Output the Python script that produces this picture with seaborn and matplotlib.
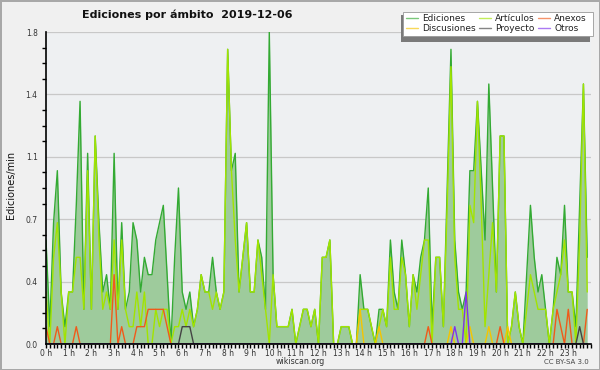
import numpy as np
import matplotlib
matplotlib.use("Agg")
import matplotlib.pyplot as plt
import seaborn as sns
from matplotlib.patches import Rectangle
from matplotlib.lines import Line2D
from matplotlib.ticker import MultipleLocator, FixedLocator, FixedFormatter

# ---------------- data (edits per minute, 10-minute steps) ----------------
hour_labels = [f"{h} h" for h in range(24)]
y_ticks = [0.0, 0.36, 0.72, 1.08, 1.44, 1.8]
y_tick_labels = ["0.0", "0.4", "0.7", "1.1", "1.4", "1.8"]

ediciones = [
    0.6, 0.1, 0.7, 1.0, 0.3, 0.1, 0.3, 0.3, 0.8, 1.4, 0.2, 1.1,
    0.2, 1.2, 0.7, 0.3, 0.4, 0.2, 1.1, 0.2, 0.7, 0.2, 0.3, 0.7,
    0.6, 0.3, 0.5, 0.4, 0.4, 0.6, 0.7, 0.8, 0.4, 0.0, 0.5, 0.9,
    0.3, 0.2, 0.3, 0.1, 0.2, 0.4, 0.3, 0.3, 0.5, 0.3, 0.2, 0.3,
    1.7, 1.0, 1.1, 0.3, 0.5, 0.7, 0.3, 0.3, 0.6, 0.5, 0.2, 1.8,
    0.4, 0.1, 0.1, 0.1, 0.1, 0.2, 0.0, 0.1, 0.2, 0.2, 0.1, 0.2,
    0.0, 0.5, 0.5, 0.6, 0.0, 0.0, 0.1, 0.1, 0.1, 0.0, 0.0, 0.4,
    0.2, 0.2, 0.1, 0.0, 0.2, 0.2, 0.1, 0.6, 0.3, 0.2, 0.6, 0.4,
    0.1, 0.4, 0.3, 0.5, 0.6, 0.9, 0.1, 0.5, 0.5, 0.1, 0.9, 1.7,
    0.6, 0.3, 0.2, 0.3, 1.0, 1.0, 1.4, 1.0, 0.6, 1.5, 0.9, 0.3,
    1.2, 1.2, 0.0, 0.1, 0.3, 0.1, 0.0, 0.4, 0.8, 0.5, 0.3, 0.4,
    0.2, 0.0, 0.2, 0.5, 0.4, 0.8, 0.3, 0.3, 0.1, 0.8, 1.5, 0.5,
]
articulos = [
    0.3, 0.0, 0.5, 0.7, 0.3, 0.0, 0.3, 0.3, 0.5, 0.5, 0.2, 1.0,
    0.2, 1.2, 0.6, 0.2, 0.3, 0.2, 0.6, 0.2, 0.6, 0.2, 0.1, 0.1,
    0.3, 0.1, 0.3, 0.0, 0.0, 0.2, 0.1, 0.2, 0.2, 0.0, 0.1, 0.1,
    0.2, 0.1, 0.2, 0.1, 0.2, 0.4, 0.3, 0.3, 0.2, 0.3, 0.2, 0.3,
    1.7, 1.0, 0.6, 0.3, 0.5, 0.7, 0.3, 0.3, 0.6, 0.4, 0.2, 0.0,
    0.4, 0.1, 0.1, 0.1, 0.1, 0.2, 0.0, 0.1, 0.2, 0.2, 0.1, 0.2,
    0.0, 0.5, 0.5, 0.6, 0.0, 0.0, 0.1, 0.1, 0.1, 0.0, 0.0, 0.2,
    0.2, 0.2, 0.1, 0.0, 0.1, 0.2, 0.1, 0.5, 0.2, 0.2, 0.5, 0.4,
    0.1, 0.4, 0.2, 0.4, 0.6, 0.6, 0.0, 0.5, 0.5, 0.1, 0.8, 1.6,
    0.5, 0.2, 0.2, 0.0, 0.8, 0.7, 1.4, 0.8, 0.1, 0.4, 0.7, 0.3,
    1.2, 1.2, 0.0, 0.1, 0.3, 0.1, 0.0, 0.2, 0.4, 0.3, 0.2, 0.2,
    0.2, 0.0, 0.2, 0.3, 0.4, 0.6, 0.3, 0.3, 0.0, 0.6, 1.5, 0.3,
]
anexos = [
    0.1, 0.0, 0.0, 0.1, 0.0, 0.0, 0.0, 0.0, 0.1, 0.0, 0.0, 0.0,
    0.0, 0.0, 0.0, 0.0, 0.0, 0.0, 0.4, 0.0, 0.1, 0.0, 0.0, 0.0,
    0.1, 0.1, 0.1, 0.2, 0.2, 0.2, 0.2, 0.2, 0.1, 0.0, 0.0, 0.0,
    0.0, 0.0, 0.0, 0.0, 0.0, 0.0, 0.0, 0.0, 0.0, 0.0, 0.0, 0.0,
    0.0, 0.0, 0.0, 0.0, 0.0, 0.0, 0.0, 0.0, 0.0, 0.0, 0.0, 0.0,
    0.0, 0.0, 0.0, 0.0, 0.0, 0.0, 0.0, 0.0, 0.0, 0.0, 0.0, 0.0,
    0.0, 0.0, 0.0, 0.0, 0.0, 0.0, 0.0, 0.0, 0.0, 0.0, 0.0, 0.0,
    0.0, 0.0, 0.0, 0.0, 0.0, 0.0, 0.0, 0.0, 0.0, 0.0, 0.0, 0.0,
    0.0, 0.0, 0.0, 0.0, 0.0, 0.1, 0.0, 0.0, 0.0, 0.0, 0.0, 0.0,
    0.0, 0.0, 0.0, 0.0, 0.0, 0.0, 0.0, 0.0, 0.0, 0.0, 0.0, 0.0,
    0.1, 0.0, 0.0, 0.0, 0.0, 0.0, 0.0, 0.0, 0.0, 0.0, 0.0, 0.0,
    0.0, 0.0, 0.0, 0.2, 0.1, 0.0, 0.2, 0.0, 0.0, 0.0, 0.0, 0.2,
]
discusiones = [
    0.0, 0.0, 0.0, 0.0, 0.0, 0.0, 0.0, 0.0, 0.0, 0.0, 0.0, 0.0,
    0.0, 0.0, 0.0, 0.0, 0.0, 0.0, 0.0, 0.0, 0.0, 0.0, 0.0, 0.0,
    0.0, 0.0, 0.0, 0.0, 0.0, 0.0, 0.0, 0.0, 0.0, 0.0, 0.0, 0.0,
    0.0, 0.0, 0.0, 0.0, 0.0, 0.0, 0.0, 0.0, 0.0, 0.0, 0.0, 0.0,
    0.0, 0.0, 0.0, 0.0, 0.0, 0.0, 0.0, 0.0, 0.0, 0.0, 0.0, 0.0,
    0.0, 0.0, 0.0, 0.0, 0.0, 0.0, 0.0, 0.0, 0.0, 0.0, 0.0, 0.0,
    0.0, 0.0, 0.0, 0.0, 0.0, 0.0, 0.0, 0.0, 0.0, 0.0, 0.0, 0.2,
    0.0, 0.0, 0.0, 0.0, 0.1, 0.0, 0.0, 0.0, 0.0, 0.0, 0.0, 0.0,
    0.0, 0.0, 0.0, 0.0, 0.0, 0.0, 0.0, 0.0, 0.0, 0.0, 0.0, 0.1,
    0.0, 0.0, 0.0, 0.0, 0.1, 0.0, 0.0, 0.0, 0.0, 0.1, 0.0, 0.0,
    0.0, 0.0, 0.1, 0.0, 0.0, 0.0, 0.0, 0.0, 0.0, 0.0, 0.0, 0.0,
    0.0, 0.0, 0.0, 0.0, 0.0, 0.0, 0.0, 0.0, 0.0, 0.0, 0.0, 0.0,
]
proyecto = [
    0.0, 0.0, 0.0, 0.0, 0.0, 0.0, 0.0, 0.0, 0.0, 0.0, 0.0, 0.0,
    0.0, 0.0, 0.0, 0.0, 0.0, 0.0, 0.0, 0.0, 0.0, 0.0, 0.0, 0.0,
    0.0, 0.0, 0.0, 0.0, 0.0, 0.0, 0.0, 0.0, 0.0, 0.0, 0.0, 0.0,
    0.1, 0.1, 0.1, 0.0, 0.0, 0.0, 0.0, 0.0, 0.0, 0.0, 0.0, 0.0,
    0.0, 0.0, 0.0, 0.0, 0.0, 0.0, 0.0, 0.0, 0.0, 0.0, 0.0, 0.0,
    0.0, 0.0, 0.0, 0.0, 0.0, 0.0, 0.0, 0.0, 0.0, 0.0, 0.0, 0.0,
    0.0, 0.0, 0.0, 0.0, 0.0, 0.0, 0.0, 0.0, 0.0, 0.0, 0.0, 0.0,
    0.0, 0.0, 0.0, 0.0, 0.0, 0.0, 0.0, 0.0, 0.0, 0.0, 0.0, 0.0,
    0.0, 0.0, 0.0, 0.0, 0.0, 0.0, 0.0, 0.0, 0.0, 0.0, 0.0, 0.0,
    0.0, 0.0, 0.0, 0.0, 0.0, 0.0, 0.0, 0.0, 0.0, 0.0, 0.0, 0.0,
    0.0, 0.0, 0.0, 0.0, 0.0, 0.0, 0.0, 0.0, 0.0, 0.0, 0.0, 0.0,
    0.0, 0.0, 0.0, 0.0, 0.0, 0.0, 0.0, 0.0, 0.0, 0.1, 0.0, 0.0,
]
otros = [
    0.0, 0.0, 0.0, 0.0, 0.0, 0.0, 0.0, 0.0, 0.0, 0.0, 0.0, 0.0,
    0.0, 0.0, 0.0, 0.0, 0.0, 0.0, 0.0, 0.0, 0.0, 0.0, 0.0, 0.0,
    0.0, 0.0, 0.0, 0.0, 0.0, 0.0, 0.0, 0.0, 0.0, 0.0, 0.0, 0.0,
    0.0, 0.0, 0.0, 0.0, 0.0, 0.0, 0.0, 0.0, 0.0, 0.0, 0.0, 0.0,
    0.0, 0.0, 0.0, 0.0, 0.0, 0.0, 0.0, 0.0, 0.0, 0.0, 0.0, 0.0,
    0.0, 0.0, 0.0, 0.0, 0.0, 0.0, 0.0, 0.0, 0.0, 0.0, 0.0, 0.0,
    0.0, 0.0, 0.0, 0.0, 0.0, 0.0, 0.0, 0.0, 0.0, 0.0, 0.0, 0.0,
    0.0, 0.0, 0.0, 0.0, 0.0, 0.0, 0.0, 0.0, 0.0, 0.0, 0.0, 0.0,
    0.0, 0.0, 0.0, 0.0, 0.0, 0.0, 0.0, 0.0, 0.0, 0.0, 0.0, 0.0,
    0.1, 0.0, 0.0, 0.3, 0.0, 0.0, 0.0, 0.0, 0.0, 0.0, 0.0, 0.0,
    0.0, 0.0, 0.0, 0.0, 0.0, 0.0, 0.0, 0.0, 0.0, 0.0, 0.0, 0.0,
    0.0, 0.0, 0.0, 0.0, 0.0, 0.0, 0.0, 0.0, 0.0, 0.0, 0.0, 0.0,
]

hours = np.arange(len(ediciones)) / 6.0

# ---------------- style ----------------
sns.set_style("white")
plt.rcParams["font.family"] = ["DejaVu Sans"]

W, H = 600, 370
fig = plt.figure(figsize=(6.0, 3.7), dpi=100)
fig.patch.set_facecolor("#f0f0f0")
fig.patch.set_edgecolor("#a8a8a8")
fig.patch.set_linewidth(2)

ax = fig.add_axes([46 / W, 1 - 344 / H, 545 / W, 312 / H])
ax.set_facecolor("#eef0f2")

c_fill = "#9ecb9c"
c_ed = "#33aa33"
c_art = "#a2e400"
c_anx = "#f05a1a"
c_dis = "#f5c400"
c_pro = "#444444"
c_otr = "#7f33ee"

ax.fill_between(hours, ediciones, color=c_fill, lw=0, zorder=1)
sns.lineplot(x=hours, y=ediciones, ax=ax, color=c_ed, lw=1.0, zorder=3)
sns.lineplot(x=hours, y=articulos, ax=ax, color=c_art, lw=1.0, zorder=4)
sns.lineplot(x=hours, y=discusiones, ax=ax, color=c_dis, lw=1.0, zorder=5)
sns.lineplot(x=hours, y=anexos, ax=ax, color=c_anx, lw=1.0, zorder=5)
sns.lineplot(x=hours, y=proyecto, ax=ax, color=c_pro, lw=1.0, zorder=5)
sns.lineplot(x=hours, y=otros, ax=ax, color=c_otr, lw=1.0, zorder=5)

ax.set_xlim(0, 24)
ax.set_ylim(0, 1.8)
ax.set_xlabel("")
ax.set_ylabel("")

ax.xaxis.set_major_locator(FixedLocator(list(range(24))))
ax.xaxis.set_major_formatter(FixedFormatter(hour_labels))
ax.xaxis.set_minor_locator(MultipleLocator(1 / 6))
ax.yaxis.set_major_locator(FixedLocator(y_ticks))
ax.yaxis.set_major_formatter(FixedFormatter(y_tick_labels))
ax.yaxis.set_minor_locator(MultipleLocator(0.09))

ax.tick_params(axis="both", which="major", direction="out", color="black",
               width=1, labelsize=5.5, labelcolor="#333333")
ax.tick_params(axis="y", which="major", length=5, pad=1)
ax.tick_params(axis="y", which="minor", length=3, width=1, color="black", left=True)
ax.tick_params(axis="x", which="major", length=3, pad=0.5, bottom=True)
ax.tick_params(axis="x", which="minor", length=3, width=1, color="black", bottom=True)

ax.grid(axis="y", which="major", color="#c8c8c8", lw=0.9, zorder=0)
ax.set_axisbelow(True)
for s in ["top", "right"]:
    ax.spines[s].set_visible(False)
for s in ["left", "bottom"]:
    ax.spines[s].set_color("black")
    ax.spines[s].set_linewidth(1.2)
    ax.spines[s].set_zorder(6)

# ---------------- texts ----------------
fig.text(187 / W, 1 - 15 / H, "Ediciones por ámbito  2019-12-06",
         ha="center", va="center", fontsize=8, fontweight="bold", color="#111111")
fig.text(11 / W, 1 - 185 / H, "Ediciones/min", rotation=90,
         ha="center", va="center", fontsize=7, color="#111111")
fig.text(300 / W, 1 - 361.5 / H, "wikiscan.org", ha="center", va="center",
         fontsize=5.7, color="#333333")
fig.text(589 / W, 1 - 362.5 / H, "CC BY-SA 3.0", ha="right", va="center",
         fontsize=5, color="#444444")

# ---------------- legend ----------------
shadow = Rectangle((401 / W, 1 - 42 / H), (590 - 401) / W, (42 - 15) / H,
                   transform=fig.transFigure, facecolor="#7a7a7a",
                   edgecolor="none", zorder=8)
box = Rectangle((403 / W, 1 - 36 / H), (593 - 403) / W, (36 - 12) / H,
                transform=fig.transFigure, facecolor="white",
                edgecolor="#999999", lw=0.6, zorder=9)
fig.patches.extend([shadow, box])

labels = ["Ediciones", "Discusiones", "Artículos", "Proyecto", "Anexos", "Otros"]
colors = [c_ed, c_dis, c_art, c_pro, c_anx, c_otr]
handles = [Line2D([0], [0], color=c, lw=1.0, alpha=0.65) for c in colors]
leg = fig.legend(handles, labels, ncol=3, loc="upper left",
                 bbox_to_anchor=(405 / W, 1 - 13 / H), frameon=False,
                 fontsize=6.5, handlelength=1.3, handletextpad=0.5,
                 columnspacing=0.35, labelspacing=0.1, borderpad=0.1,
                 borderaxespad=0)
leg.set_zorder(10)
for t in leg.get_texts():
    t.set_color("#222222")

fig.savefig("out.png", dpi=100, facecolor=fig.get_facecolor(),
            edgecolor=fig.get_edgecolor())
